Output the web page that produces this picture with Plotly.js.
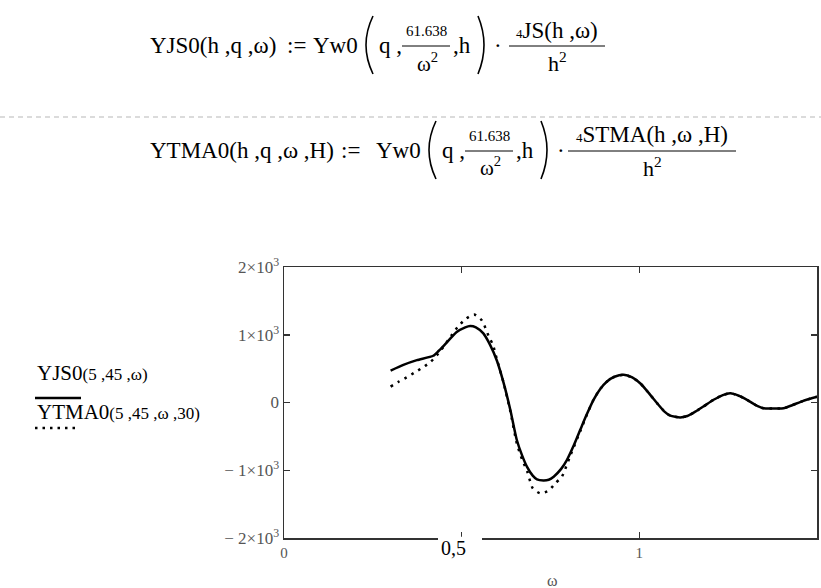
<!DOCTYPE html>
<html>
<head>
<meta charset="utf-8">
<script src="https://cdn.plot.ly/plotly-3.0.1.min.js"></script>
<style>html,body{margin:0;padding:0;background:#fff;}#chart{width:821px;height:588px;}</style>
</head>
<body>
<div id="chart"></div>
<script>
// ---- data ----
const omegaJS = [0.30,0.336,0.374,0.42,0.435,0.45,0.486,0.51,0.524,0.54,0.561,0.58,0.599,0.618,0.637,0.655,0.67,0.684,0.70,0.712,0.73,0.745,0.759,0.78,0.796,0.815,0.834,0.85,0.871,0.89,0.909,0.93,0.956,0.98,1.003,1.025,1.05,1.07,1.087,1.115,1.135,1.153,1.18,1.209,1.235,1.256,1.28,1.303,1.325,1.35,1.38,1.406,1.43,1.454,1.48,1.5];
const yjs0 = [470,555,625,690,760,840,1040,1110,1130,1110,1020,850,620,290,-110,-550,-780,-950,-1080,-1135,-1150,-1140,-1095,-980,-850,-640,-400,-200,40,200,310,380,410,370,280,150,-10,-130,-195,-220,-200,-150,-60,40,110,135,100,40,-30,-85,-88,-85,-40,10,55,85];
const omegaTMA = [0.30,0.322,0.345,0.367,0.39,0.413,0.44,0.47,0.491,0.513,0.535,0.557,0.576,0.588,0.599,0.618,0.637,0.655,0.67,0.684,0.70,0.721,0.745,0.763,0.782,0.806,0.834,0.85,0.871,0.89,0.909,0.93,0.956,0.98,1.003,1.025,1.05,1.07,1.087,1.115,1.135,1.153,1.18,1.209,1.235,1.256,1.28,1.303,1.325,1.35,1.38,1.406,1.43,1.454,1.48,1.5];
const ytma0 = [235,305,370,440,515,600,760,980,1130,1240,1300,1210,980,850,640,290,-130,-600,-840,-1010,-1265,-1340,-1300,-1195,-1095,-780,-420,-210,40,200,310,380,410,370,280,150,-10,-130,-195,-220,-200,-150,-60,40,110,135,100,40,-30,-85,-88,-85,-40,10,55,85];
const yTickVals = [2000,1000,0,-1000,-2000];
const yTickText = ['2×10<sup>3</sup>','1×10<sup>3</sup>','0','− 1×10<sup>3</sup>','− 2×10<sup>3</sup>'];
const xTickVals = [0,0.5,1];
const xTickText = ['0','','1'];
const xMidLabel = '0,5';
const legendNames = ['YJS0', 'YTMA0'];
const legendArgs = ['(5 ,45 ,ω)', '(5 ,45 ,ω ,30)'];

// ---- page geometry ----
const W=821,H=588,L=284,R=817,T=267,B=538;
const px = x => (x-L)/(R-L);
const py = y => (B-y)/(B-T);
const FONT = 'Liberation Serif, Times New Roman, serif';
const FS = 23;

const ann = [];
const shapes = [];
function txt(text,x,y,size,xa,opts){
  ann.push(Object.assign({text:text,x:px(x),y:py(y),xref:'paper',yref:'paper',showarrow:false,
    xanchor:xa||'center',yanchor:'middle',font:{family:FONT,size:size,color:'#000'}},opts||{}));
}
function hline(x0,x1,y,w,dash,color){
  shapes.push({type:'line',xref:'paper',yref:'paper',x0:px(x0),x1:px(x1),y0:py(y),y1:py(y),
    line:{color:color||'#000',width:w||1,dash:dash||'solid'}});
}
function paren(x0,x1,y0,y1,left){
  const ym=(y0+y1)/2;
  const xs = left? x1 : x0, xc = left? x0-3 : x1+3;
  shapes.push({type:'path',xref:'paper',yref:'paper',
    path:`M ${px(xs)},${py(y0)} Q ${px(xc)},${py(ym)} ${px(xs)},${py(y1)}`,
    line:{color:'#000',width:1.6}});
}
function formula(name,yc,nameEnd,frac2,frac2c,frac2w,defX){
  txt(name,148,yc,FS,'left');
  txt(':=',defX,yc,FS,'center');
  txt('Yw0',nameEnd,yc,FS,'right');
  const p0 = nameEnd+2;
  paren(p0,p0+11,yc-29,yc+29,true);
  txt('q ,',p0+15,yc,FS,'left');
  const f1 = p0+40;
  txt('61.638',f1+24,yc-14,15);
  hline(f1,f1+48,yc+1,1);
  txt('ω<sup>2</sup>',f1+25,yc+17,21);
  txt(',h',f1+49,yc,FS,'left');
  paren(f1+76,f1+85,yc-29,yc+29,false);
  txt('·',f1+96,yc,FS);
  const b0=frac2c-frac2w/2, b1=frac2c+frac2w/2;
  txt(frac2,frac2c,yc-15,FS);
  hline(b0,b1,yc+1,1);
  txt('h<sup>2</sup>',frac2c,yc+17,22);
}
const four = '<span style="font-size:13px;color:#000">4</span>';
formula('YJS0(h ,q ,ω)',45,360,four+'JS(h ,ω)',557,96,296);
formula('YTMA0(h ,q ,ω ,H)',150,423,four+'STMA(h ,ω ,H)',652,168,350);

// dashed separator
hline(0,821,117,1.5,'5px,4px','#cfcfcf');

// legend
txt(legendNames[0]+'<span style="font-size:17px;color:#000">'+legendArgs[0]+'</span>',35,373,21,'left');
hline(35,81,398,2.5,'solid');
txt(legendNames[1]+'<span style="font-size:17px;color:#000">'+legendArgs[1]+'</span>',35,412,21,'left');
hline(35,78,428,2.5,'2.5px,5px');

// 0,5 label on white box
shapes.push({type:'rect',xref:'paper',yref:'paper',layer:'above',x0:px(438),x1:px(482),y0:py(536.8),y1:py(556),
  fillcolor:'#fff',line:{width:0}});
txt(xMidLabel,453,548,20,'center');
// axis title
txt('ω',552,580,16,'center',{font:{family:FONT,size:16,color:'#555'}});

const traces = [
  {x:omegaJS,y:yjs0,type:'scatter',mode:'lines',line:{color:'#000',width:2.5,shape:'spline',smoothing:0.6},name:'YJS0',showlegend:false},
  {x:omegaTMA,y:ytma0,type:'scatter',mode:'lines',line:{color:'#000',width:2.5,dash:'2.5px,5.5px',shape:'spline',smoothing:0.6},name:'YTMA0',showlegend:false}
];

const axisCommon = {showline:true,linecolor:'#333',linewidth:1.5,mirror:'ticks',ticks:'inside',ticklen:6,
  tickwidth:1.5,tickcolor:'#333',showgrid:false,zeroline:false,tickfont:{family:FONT,size:17,color:'#555'}};

const layout = {
  width:W,height:H,margin:{l:L,r:W-R,t:T,b:H-B,pad:0},
  paper_bgcolor:'#fff',plot_bgcolor:'#fff',showlegend:false,
  xaxis:Object.assign({},axisCommon,{range:[0,1.5],tickmode:'array',tickvals:xTickVals,ticktext:xTickText,
    tickfont:{family:FONT,size:15,color:'#555'}}),
  yaxis:Object.assign({},axisCommon,{range:[-2000,2000],tickmode:'array',tickvals:yTickVals,ticktext:yTickText}),
  annotations:ann,shapes:shapes
};
Plotly.newPlot('chart',traces,layout,{staticPlot:true,displayModeBar:false});
</script>
</body>
</html>
